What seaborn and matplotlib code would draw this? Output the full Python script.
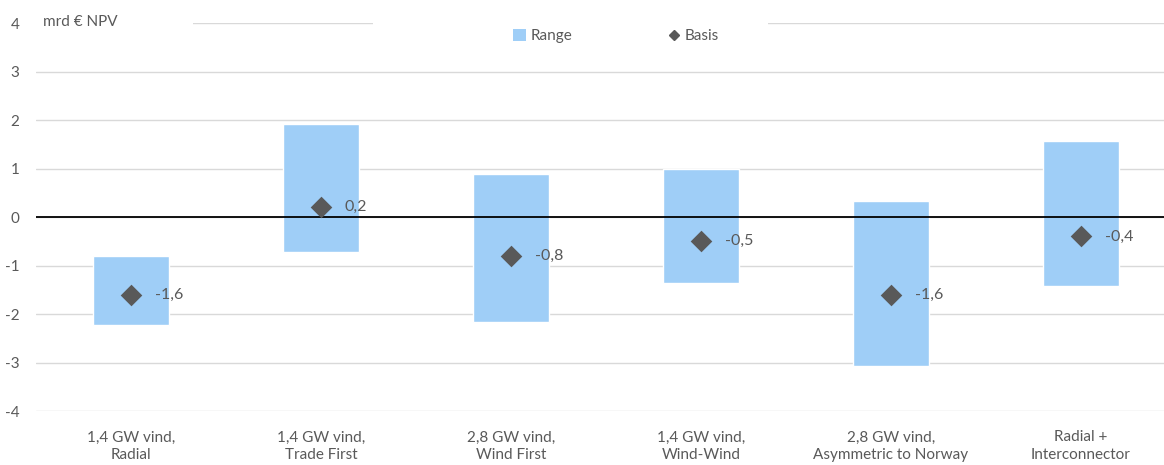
import numpy as np
import pandas as pd
import seaborn as sns
import matplotlib
matplotlib.use("Agg")
import matplotlib.pyplot as plt
from matplotlib.patches import Rectangle
from matplotlib.lines import Line2D

categories = ["1,4 GW vind,\nRadial", "1,4 GW vind,\nTrade First", "2,8 GW vind,\nWind First",
              "1,4 GW vind,\nWind-Wind", "2,8 GW vind,\nAsymmetric to Norway", "Radial +\nInterconnector"]
range_low = [-2.23, -0.72, -2.16, -1.36, -3.07, -1.42]
range_high = [-0.80, 1.92, 0.88, 0.99, 0.32, 1.57]
basis = [-1.6, 0.2, -0.8, -0.5, -1.6, -0.4]
basis_labels = ["-1,6", "0,2", "-0,8", "-0,5", "-1,6", "-0,4"]
yticks = [-4, -3, -2, -1, 0, 1, 2, 3, 4]

sns.set_theme(style="white")
plt.rcParams["font.family"] = ["Lato", "DejaVu Sans"]

TXT = "#595959"
BAR = "#9FCEF7"

df = pd.DataFrame({"cat": categories,
                   "height": np.array(range_high) - np.array(range_low),
                   "low": range_low, "basis": basis})

fig = plt.figure(figsize=(11.64, 4.65), dpi=100)
ax = fig.add_axes([36 / 1164, (465 - 411) / 465, 1140 / 1164, 388 / 465])

sns.barplot(data=df, x="cat", y="height", bottom=df["low"].values, color=BAR,
            width=0.4, errorbar=None, saturation=1, ax=ax, zorder=2)
sns.stripplot(data=df, x="cat", y="basis", jitter=False, marker="D", size=11,
              color=TXT, linewidth=0, ax=ax, zorder=4)

for i, (v, lab) in enumerate(zip(basis, basis_labels)):
    ax.annotate(lab, (i, v), xytext=(17, 0), textcoords="offset points",
                va="center", ha="left", color=TXT, fontsize=11.5, zorder=5)

ax.set_ylim(-4, 4)
ax.set_xlim(-0.5, 5.5)
ax.set_yticks(yticks)
ax.set_yticklabels([str(t) for t in yticks])
ax.set_xlabel("")
ax.set_ylabel("")
ax.set_axisbelow(True)
ax.yaxis.grid(True, color="#D9D9D9", linewidth=1)
ax.xaxis.grid(False)
ax.axhline(0, color="black", linewidth=1.3, zorder=3)
for s in ax.spines.values():
    s.set_visible(False)
ax.tick_params(axis="y", length=0, pad=12, labelsize=11, labelcolor=TXT)
ax.tick_params(axis="x", length=0, pad=14, labelsize=11, labelcolor=TXT)
for t in ax.get_xticklabels():
    t.set_linespacing(1.35)

# white gaps in top gridline behind title and legend
ax.add_patch(Rectangle((0, 0.975), (193 - 36) / 1140, 0.05, transform=ax.transAxes,
                       facecolor="white", edgecolor="none", zorder=1, clip_on=False))
ax.add_patch(Rectangle(((373 - 36) / 1140, 0.975), (768 - 373) / 1140, 0.05,
                       transform=ax.transAxes, facecolor="white", edgecolor="none",
                       zorder=1, clip_on=False))

ax.text(7 / 1140, 1.003, "mrd € NPV", transform=ax.transAxes, ha="left", va="center",
        color=TXT, fontsize=11, zorder=6)

handles = [Rectangle((0, 0), 1, 1, facecolor=BAR, edgecolor="none"),
           Line2D([], [], marker="D", linestyle="none", color=TXT, markersize=5)]
leg = ax.legend(handles, ["Range", "Basis"], loc="center", bbox_to_anchor=(0.509, 0.966),
                ncol=2, frameon=False, fontsize=11, handlelength=0.8, handleheight=0.8,
                handletextpad=0.3, columnspacing=6.3, labelcolor=TXT)

fig.savefig("out.png", dpi=100)
